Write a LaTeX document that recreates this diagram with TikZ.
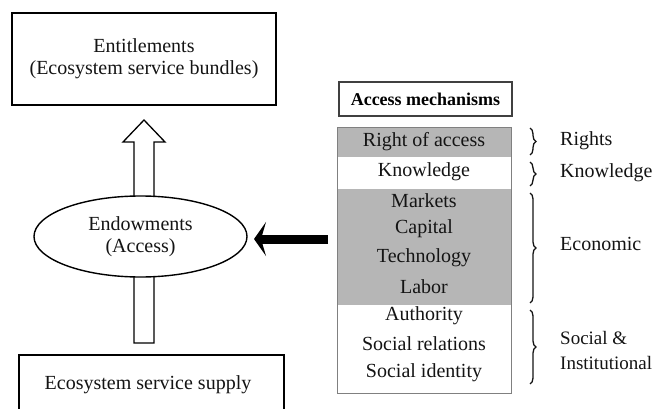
\documentclass[tikz,border=0pt]{standalone}
\usepackage{fontspec}
\setmainfont{Liberation Serif}
\usetikzlibrary{shapes.geometric,arrows.meta,decorations.pathreplacing}
\definecolor{rowgray}{RGB}{182,182,182}
\definecolor{txt}{RGB}{20,20,20}
\tikzset{
  txtfont/.style={font=\fontsize{20}{22}\selectfont, text=txt},
  bigbox/.style={draw=black, line width=1.6pt, inner sep=0pt},
  rowbg/.style={inner sep=0pt, minimum width=174pt, draw=none},
  rowtxt/.style={txtfont, inner sep=0pt, anchor=center},
  sidelabel/.style={txtfont, inner sep=0pt, anchor=west, align=left},
  bracestyle/.style={decorate, decoration={brace, amplitude=6pt}, line width=1.3pt, draw=txt},
  hollow/.style={draw=black, line width=1.3pt, fill=white, line join=miter},
}
\begin{document}
\begin{tikzpicture}[x=1pt,y=-1pt]
\useasboundingbox (0,0) rectangle (663,409);
\clip (0,0) rectangle (663,409);
\fill[white] (0,0) rectangle (663,409);

% Entitlements box
\node[bigbox, minimum width=264pt, minimum height=92pt, txtfont, align=center] (ent) at (144,59)
  {Entitlements\\(Ecosystem service bundles)};

% Ecosystem service supply box (runs off the bottom)
\node[bigbox, minimum width=265pt, minimum height=80pt, anchor=north west] (supply) at (18,354) {};
\node[txtfont, inner sep=0pt] (supplytxt) at (148,385) {Ecosystem service supply};

% hollow arrow (shaft passes behind the ellipse)
\coordinate (shaftbot) at (144,343);
\coordinate (tip) at (144,120);
\draw[hollow] ([xshift=-10pt]shaftbot) -- ++(0,-201) -- ++(-11,0) -- (tip) -- ++(21,22) -- ++(-11,0) -- ([xshift=10pt]shaftbot) -- cycle;

% Endowments ellipse
\node[ellipse, draw=black, line width=1.4pt, fill=white, minimum width=213pt, minimum height=81pt, inner sep=0pt, txtfont, align=center] (endow) at (140.5,236.5)
  {Endowments\\(Access)};

% Access mechanisms header
\node[draw=black!75, line width=1.3pt, minimum width=173pt, minimum height=34pt, inner sep=0pt, font=\fontsize{18}{20}\selectfont\bfseries] (head) at (425.5,99) {Access mechanisms};

% rows
\node[rowbg, fill=rowgray, minimum height=30pt, anchor=north west] (rowR) at (337,127) {};
\node[rowbg, fill=white, minimum height=32pt, anchor=north west] (rowK) at (337,157) {};
\node[rowbg, fill=rowgray, minimum height=116pt, anchor=north west] (rowE) at (337,189) {};
\node[rowbg, fill=white, minimum height=88pt, anchor=north west] (rowS) at (337,305) {};
\node[draw=black!50, line width=1.4pt, minimum width=174pt, minimum height=266pt, inner sep=0pt, anchor=north west] (mainbox) at (337,127) {};

\node[rowtxt] (t1) at (424,142) {Right of access};
\node[rowtxt] (t2) at (424,172) {Knowledge};
\node[rowtxt] (t3) at (424,201) {Markets};
\node[rowtxt] (t4) at (424,229) {Capital};
\node[rowtxt] (t5) at (424,258) {Technology};
\node[rowtxt] (t6) at (424,287) {Labor};
\node[rowtxt] (t7) at (424,316) {Authority};
\node[rowtxt] (t8) at (424,344) {Social relations};
\node[rowtxt] (t9) at (424,373) {Social identity};

% black arrow
\coordinate (bstart) at (328,239);
\coordinate (bend) at (254,239);
\draw[line width=9pt, -{Stealth[length=12pt,width=34pt,inset=5pt]}] (bstart) -- (bend);

% braces
\coordinate (b1a) at (530,128); \coordinate (b1b) at (530,155);
\coordinate (b2a) at (530,162); \coordinate (b2b) at (530,186);
\coordinate (b3a) at (530,193); \coordinate (b3b) at (530,303);
\coordinate (b4a) at (530,310); \coordinate (b4b) at (530,384);
\draw[bracestyle] (b1a) -- (b1b);
\draw[bracestyle] (b2a) -- (b2b);
\draw[bracestyle] (b3a) -- (b3b);
\draw[bracestyle] (b4a) -- (b4b);

\node[sidelabel] (l1) at (560,141) {Rights};
\node[sidelabel] (l2) at (560,173) {Knowledge};
\node[sidelabel] (l3) at (560,244) {Economic};
\node[sidelabel, font=\fontsize{19}{25}\selectfont] (l4) at (560,350) {Social \&\\Institutional};
\end{tikzpicture}
\end{document}
